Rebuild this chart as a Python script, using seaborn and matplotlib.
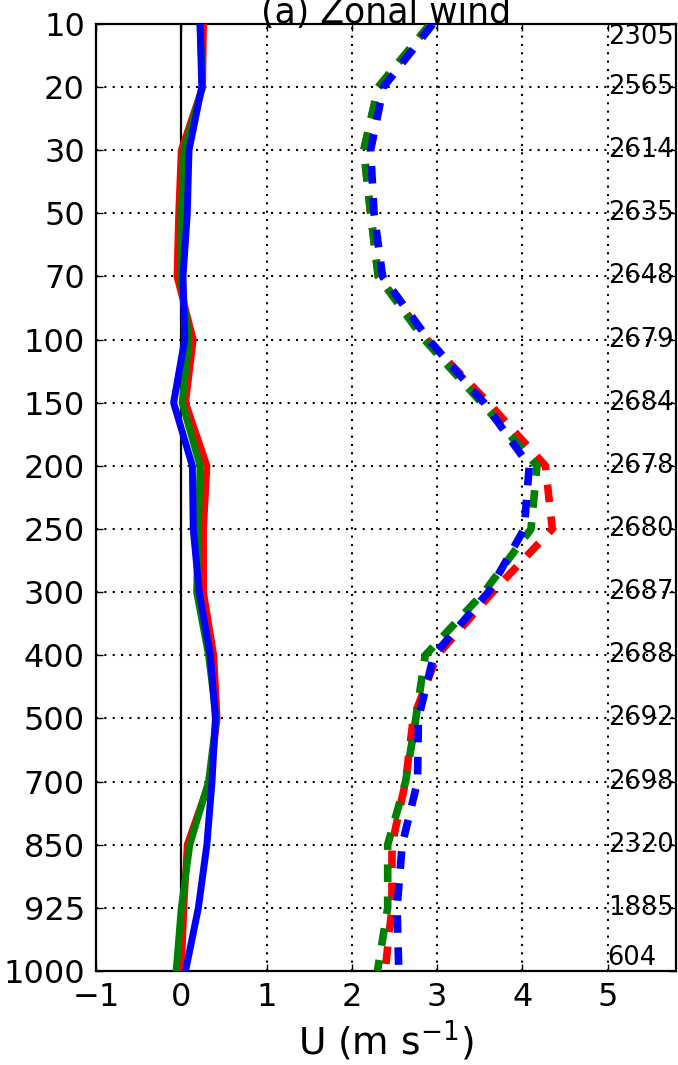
import numpy as np
import pandas as pd
import seaborn as sns
import matplotlib
matplotlib.use("Agg")
import matplotlib.pyplot as plt

# pressure levels (hPa), top to bottom
levels = [10, 20, 30, 50, 70, 100, 150, 200, 250, 300, 400, 500, 700, 850, 925, 1000]
counts = [2305, 2565, 2614, 2635, 2648, 2679, 2684, 2678, 2680, 2687, 2688, 2692, 2698, 2320, 1885, 604]

# solid profiles
u_solid_red = [0.26, 0.25, 0.00, -0.03, -0.05, 0.14, 0.05, 0.30, 0.26, 0.26, 0.38, 0.42, 0.33, 0.07, 0.03, 0.00]
u_solid_green = [0.22, 0.25, 0.03, 0.00, -0.01, 0.09, 0.01, 0.22, 0.20, 0.18, 0.32, 0.41, 0.32, 0.10, 0.00, -0.06]
u_solid_blue = [0.22, 0.24, 0.09, 0.07, 0.02, 0.04, -0.09, 0.13, 0.14, 0.21, 0.34, 0.40, 0.36, 0.30, 0.20, 0.05]

# dashed profiles
u_dash_red = [2.92, 2.31, 2.14, 2.22, 2.31, 2.88, 3.60, 4.27, 4.35, 3.65, 3.00, 2.72, 2.63, 2.47, 2.47, 2.39]
u_dash_green = [2.92, 2.31, 2.14, 2.22, 2.31, 2.85, 3.52, 4.17, 4.10, 3.55, 2.86, 2.75, 2.63, 2.42, 2.42, 2.30]
u_dash_blue = [2.95, 2.37, 2.22, 2.26, 2.36, 2.90, 3.55, 4.08, 4.02, 3.60, 2.96, 2.78, 2.77, 2.59, 2.53, 2.55]

lev_idx = np.arange(len(levels))

fig = plt.figure(figsize=(6.78, 10.65), dpi=100)
ax = fig.add_axes([0.1416, 0.0883, 0.8554, 0.8892])

ax.axvline(0, color="k", lw=1.6, zorder=1)

solid = [(u_solid_red, "red"), (u_solid_green, "green"), (u_solid_blue, "blue")]
dashed = [(u_dash_red, "red"), (u_dash_green, "green"), (u_dash_blue, "blue")]

for vals, col in solid:
    sns.lineplot(x=vals, y=lev_idx, orient="y", sort=False, color=col, lw=5, ax=ax, zorder=3)
for vals, col in dashed:
    sns.lineplot(x=vals, y=lev_idx, orient="y", sort=False, color=col, lw=5.5,
                 linestyle=(0, (2.3, 1.9)), ax=ax, zorder=3)

for i, c in enumerate(counts):
    va = "center"
    if i == 0:
        va = "top"
    elif i == len(counts) - 1:
        va = "bottom"
    ax.text(5.0, i, str(c), ha="left", va=va, fontsize=18.5, zorder=4)

ax.set_xlim(-1, 5.8)
ax.set_ylim(len(levels) - 1, 0)
ax.set_xticks([-1, 0, 1, 2, 3, 4, 5])
ax.set_yticks(lev_idx)
ax.set_yticklabels([str(l) for l in levels])
ax.grid(True, linestyle=(0, (1, 3)), color="k", lw=1.5, zorder=0)
ax.tick_params(direction="in", top=True, right=True, length=5, width=1, labelsize=23, pad=8)
for s in ax.spines.values():
    s.set_linewidth(1.6)

ax.set_title("(a) Zonal wind", fontsize=25, pad=1)
ax.set_xlabel("U (m s$^{-1}$)", fontsize=27, labelpad=4)
ax.set_ylabel("")

fig.savefig("out.png", dpi=100)
